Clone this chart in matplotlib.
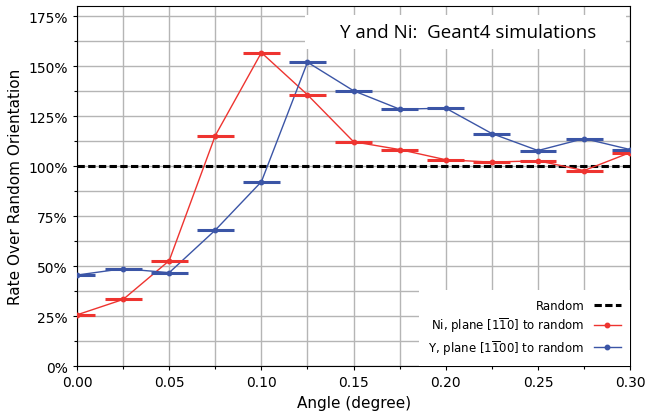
import numpy as np
import matplotlib
matplotlib.use("Agg")
import matplotlib.pyplot as plt
from matplotlib.patches import Rectangle
from matplotlib.ticker import MultipleLocator, PercentFormatter

# angle bins (degree)
angles = [0.0, 0.025, 0.05, 0.075, 0.1, 0.125, 0.15, 0.175, 0.2, 0.225, 0.25, 0.275, 0.3]
# rate over random orientation (%)
ni_rate = [25.6, 33.3, 52.7, 115.3, 156.8, 135.7, 112.2, 108.3, 103.2, 102.0, 102.7, 97.8, 106.8]
y_rate = [45.5, 48.7, 46.7, 68.0, 92.2, 152.0, 137.7, 128.5, 129.0, 116.3, 107.8, 113.8, 108.3]
bin_halfwidth = 0.01

red = "#ee3430"
blue = "#3b55a6"

fig = plt.figure(figsize=(6.47, 4.14), dpi=100)
ax = fig.add_axes([0.119, 0.1135, 0.855, 0.869])

# random reference level
ax.axhline(100, color="black", ls=(0, (2.4, 1.1)), lw=2.2, zorder=3, label="Random")

ax.plot(angles, ni_rate, color=red, lw=1.0, marker="o", ms=3.2, zorder=4,
        label=r"Ni, plane [1$\overline{1}$0] to random")
ax.plot(angles, y_rate, color=blue, lw=1.0, marker="o", ms=3.2, zorder=4,
        label=r"Y, plane [1$\overline{1}$00] to random")
ax.errorbar(angles, ni_rate, xerr=bin_halfwidth, fmt="none", ecolor=red, elinewidth=2.2, zorder=4)
ax.errorbar(angles, y_rate, xerr=bin_halfwidth, fmt="none", ecolor=blue, elinewidth=2.2, zorder=4)

ax.set_xlim(0, 0.3)
ax.set_ylim(0, 180)
ax.xaxis.set_major_locator(MultipleLocator(0.05))
ax.xaxis.set_minor_locator(MultipleLocator(0.025))
ax.yaxis.set_major_locator(MultipleLocator(25))
ax.yaxis.set_minor_locator(MultipleLocator(12.5))
ax.xaxis.set_major_formatter(lambda v, p: f"{v:.2f}")
ax.yaxis.set_major_formatter(PercentFormatter(decimals=0))
ax.tick_params(which="both", labelsize=10, length=3, width=0.8)
ax.tick_params(which="minor", length=2)
ax.grid(True, which="both", color="#b5b5b5", lw=1.0, zorder=0)
ax.set_axisbelow(True)

ax.set_xlabel("Angle (degree)", fontsize=11)
ax.set_ylabel("Rate Over Random Orientation", fontsize=11)

# title sits in a white box inside the top right of the axes
ax.add_patch(Rectangle((0.412, 0.881), 0.581, 0.094, transform=ax.transAxes,
                       facecolor="white", edgecolor="none", zorder=5))
ax.text(0.707, 0.928, "Y and Ni:  Geant4 simulations", transform=ax.transAxes,
        ha="center", va="center", fontsize=13.5, family="Open Sans", zorder=6)

leg = ax.legend(loc="lower right", markerfirst=False, fontsize=8.5, frameon=True,
                fancybox=False, framealpha=1, edgecolor="none", handlelength=2.3,
                labelspacing=0.28, borderaxespad=0.0, borderpad=0.8)
leg.set_zorder(6)

fig.savefig("out.png", dpi=100)
